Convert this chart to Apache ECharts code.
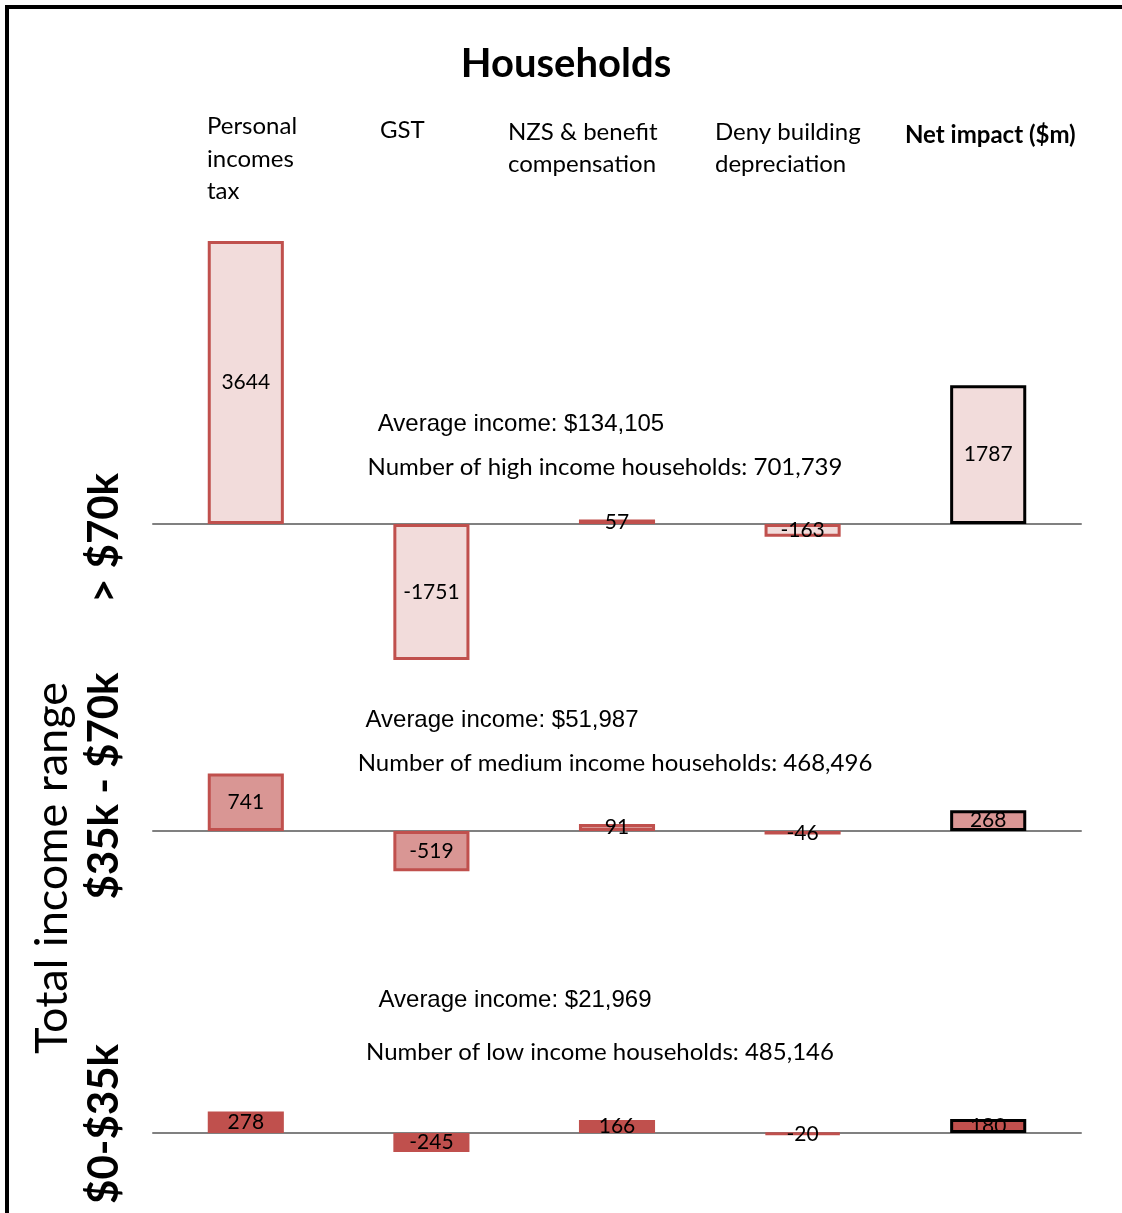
<!DOCTYPE html>
<html><head><meta charset="utf-8">
<script src="https://cdn.jsdelivr.net/npm/echarts@6/dist/echarts.min.js"></script>
<style>html,body{margin:0;padding:0;background:#fff}#c{width:1122px;height:1213px}</style>
</head><body><div id="c"></div>
<script>
const categories = ['Personal incomes tax', 'GST', 'NZS & benefit compensation', 'Deny building depreciation', 'Net impact ($m)'];
const highValues = [3644, -1751, 57, -163, 1787];
const mediumValues = [741, -519, 91, -46, 268];
const lowValues = [278, -245, 166, -20, 180];
const rowLabels = ['> $70k', '$35k - $70k', '$0-$35k'];
const avgIncome = ['Average income: $134,105', 'Average income: $51,987', 'Average income: $21,969'];
const householdCounts = ['Number of high income households: 701,739', 'Number of medium income households: 468,496', 'Number of low income households: 485,146'];

const calib = 'Lato, "Noto Sans", sans-serif';
const arial = '"Liberation Sans", Arial, sans-serif';
const fills = ['#F2DCDB', '#D99694', '#C0504D'];
const rows = [highValues, mediumValues, lowValues];
const ranges = [[-2000, 4000], [-1000, 1000], [-500, 500]];
const baselines = [524, 831, 1133];
const pxPerUnit = 283 / 3644;
const left = 153, right = 1122 - 1081;

const grids = [], xAxes = [], yAxes = [], series = [];
rows.forEach((vals, i) => {
  const [mn, mx] = ranges[i];
  const top = baselines[i] - mx * pxPerUnit;
  const height = (mx - mn) * pxPerUnit;
  grids.push({ left: left, right: right, top: top, height: height });
  xAxes.push({ type: 'category', gridIndex: i, data: categories,
    axisLine: { show: true, onZero: true, lineStyle: { color: '#808080', width: 2 } },
    axisTick: { show: false }, axisLabel: { show: false }, splitLine: { show: false } });
  yAxes.push({ type: 'value', gridIndex: i, min: mn, max: mx, show: false, splitLine: { show: false } });
  series.push({
    type: 'bar', xAxisIndex: i, yAxisIndex: i, barWidth: '41%',
    data: vals.map((v, j) => ({ value: v, itemStyle: {
      color: fills[i],
      borderColor: j === 4 ? '#000' : '#C0504D',
      borderWidth: 3 } })),
    label: { show: true, position: 'inside', color: '#000', fontFamily: calib, fontSize: 21 },
    animation: false
  });
});

const texts = [];
function t(x, y, text, opt) {
  texts.push(Object.assign({ type: 'text', x: x, y: y, style: Object.assign({ text: text, fill: '#000', font: '24px ' + calib, textAlign: 'left', textVerticalAlign: 'middle' }, opt || {}) }));
}
t(566, 64, 'Households', { font: 'bold 40px ' + calib, textAlign: 'center' });
t(207, 126, 'Personal', {}); t(207, 159, 'incomes', {}); t(207, 191, 'tax', {});
t(380, 130, categories[1]);
t(508, 132, 'NZS & benefit'); t(508, 164, 'compensation');
t(715, 132, 'Deny building'); t(715, 164, 'depreciation');
t(905, 135, categories[4], { font: 'bold 24px ' + calib });

const avgY = [424, 720, 1000], avgX = [521, 502, 515];
const cntY = [467, 763, 1052], cntX = [605, 615, 600];
for (let i = 0; i < 3; i++) {
  t(avgX[i], avgY[i], avgIncome[i], { font: '24px ' + arial, textAlign: 'center' });
  t(cntX[i], cntY[i], householdCounts[i], { textAlign: 'center' });
}
const rowY = [538, 786, 1124];
rowLabels.forEach((r, i) => {
  texts.push({ type: 'text', x: 104, y: rowY[i], rotation: Math.PI / 2,
    style: { text: r, fill: '#000', font: 'bold 42px ' + calib, textAlign: 'center', textVerticalAlign: 'middle' } });
});
texts.push({ type: 'text', x: 52, y: 868, rotation: Math.PI / 2,
  style: { text: 'Total income range', fill: '#000', font: '45px ' + calib, textAlign: 'center', textVerticalAlign: 'middle' } });
texts.push({ type: 'rect', shape: { x: 7, y: 7, width: 1300, height: 1400 }, style: { fill: 'none', stroke: '#000', lineWidth: 4 }, silent: true });

const chart = echarts.init(document.getElementById('c'), null, { renderer: 'canvas' });
chart.setOption({ animation: false, grid: grids, xAxis: xAxes, yAxis: yAxes, series: series, graphic: texts });
</script></body></html>
